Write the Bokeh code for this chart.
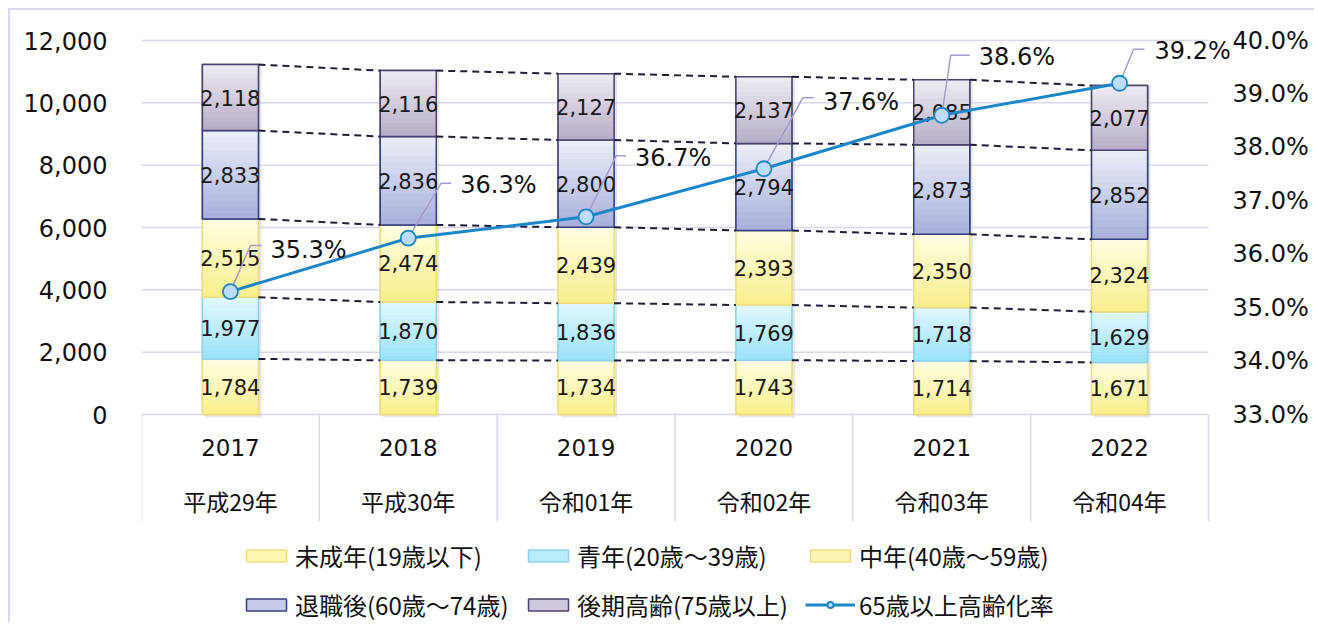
from bokeh.plotting import figure
from bokeh.models import (Range1d, LinearAxis, FixedTicker, NumeralTickFormatter,
                          PrintfTickFormatter, Legend, LegendItem)
from bokeh.embed import file_html
from bokeh.resources import INLINE
from bokeh.core.properties import value

# ---------------- data ----------------
years = ["2017", "2018", "2019", "2020", "2021", "2022"]
eras = ["平成29年", "平成30年", "令和01年", "令和02年", "令和03年", "令和04年"]
series_names = ["未成年(19歳以下)", "青年(20歳～39歳)", "中年(40歳～59歳)",
                "退職後(60歳～74歳)", "後期高齢(75歳以上)"]
minor = [1784, 1739, 1734, 1743, 1714, 1671]
youth = [1977, 1870, 1836, 1769, 1718, 1629]
middle = [2515, 2474, 2439, 2393, 2350, 2324]
retired = [2833, 2836, 2800, 2794, 2873, 2852]
elderly = [2118, 2116, 2127, 2137, 2085, 2077]
rate_name = "65歳以上高齢化率"
aging_rate = [35.3, 36.3, 36.7, 37.6, 38.6, 39.2]
y_ticks = [0, 2000, 4000, 6000, 8000, 10000, 12000]
pct_ticks = [33, 34, 35, 36, 37, 38, 39, 40]

# ---------------- layout / style ----------------
W, H = 1314, 622
MB_L, MB_R, MB_T, MB_B = 141, 84, 10, 0
FRAME_W = W - MB_L - MB_R
FRAME_H = H - MB_T - MB_B
CAT_PX = 1067 / 6.0          # px per category
EXTRA_R = FRAME_W - 1067     # frame px to the right of the last category
ZERO_FROM_TOP = 404          # px from frame top to value 0
PX_PER_VAL = 374 / 12000.0   # px per unit on left axis
Y_TOP = ZERO_FROM_TOP / PX_PER_VAL
Y_BOT = -(FRAME_H - ZERO_FROM_TOP) / PX_PER_VAL
PCT_BASE, PCT_SPAN = 33.0, 7.0


def to_pct(v):
    return PCT_BASE + v * PCT_SPAN / 12000.0


PX_PER_X = CAT_PX
PX_PER_PCT = 374 / PCT_SPAN
BAR_W = 0.315

GRID = "#d9d8ee"
colors = [  # (bottom, top, edge)
    ("#f9f08a", "#fffde4", "#f0dc7c"),
    ("#98e2f8", "#e2f8fe", "#8ed4ee"),
    ("#f8ee8c", "#fffee2", "#eedb80"),
    ("#a7afdb", "#eceef8", "#33407f"),
    ("#b6acc7", "#efecf3", "#4a4270"),
]
NUM_FONT = value("DejaVu Sans")
JP_FONT = value("Noto Sans CJK JP")


def lerp_hex(c1, c2, t):
    a = [int(c1[i:i + 2], 16) for i in (1, 3, 5)]
    b = [int(c2[i:i + 2], 16) for i in (1, 3, 5)]
    return "#%02x%02x%02x" % tuple(round(a[k] + (b[k] - a[k]) * t) for k in range(3))


chart_border = ("linear-gradient(#d9d8ee,#d9d8ee) 8px 8px / 2px 100% no-repeat, "
                "linear-gradient(#d9d8ee,#d9d8ee) 8px 8px / 100% 2px no-repeat, white")

n = len(years)
p = figure(width=W, height=H, output_backend="svg", toolbar_location=None,
           x_range=Range1d(0, n + EXTRA_R / CAT_PX), y_range=Range1d(Y_BOT, Y_TOP),
           x_axis_location=None, min_border_left=MB_L, min_border_right=MB_R,
           min_border_top=MB_T, min_border_bottom=MB_B,
           background_fill_color="white", border_fill_alpha=0,
           outline_line_color=None,
           styles={"background": chart_border})
p.extra_y_ranges = {"pct": Range1d(to_pct(Y_BOT), to_pct(Y_TOP))}

# left axis
ax = p.yaxis[0]
ax.ticker = FixedTicker(ticks=y_ticks)
ax.formatter = NumeralTickFormatter(format="0,0")

# right axis
rax = LinearAxis(y_range_name="pct", ticker=FixedTicker(ticks=pct_ticks),
                 formatter=PrintfTickFormatter(format="%.1f%%"))
p.add_layout(rax, "right")

for a, standoff in ((ax, 34), (rax, 2)):
    a.axis_line_color = None
    a.major_tick_line_color = None
    a.minor_tick_line_color = None
    a.major_tick_out = 0
    a.major_tick_in = 0
    a.minor_tick_out = 0
    a.minor_tick_in = 0
    a.major_label_standoff = standoff
    a.major_label_text_font = "DejaVu Sans"
    a.major_label_text_font_size = "24px"
    a.major_label_text_color = "#111111"

# grid (only across the category area)
p.xgrid.visible = False
p.ygrid.visible = False
gt = y_ticks[1:]
p.segment(x0=[0] * len(gt), y0=gt, x1=[n] * len(gt), y1=gt, line_color=GRID, line_width=1.5)

# category table below the plot
xc = [i + 0.5 for i in range(n)]
TABLE_BOTTOM = -(521 - 414) / PX_PER_VAL
p.segment(x0=[0], y0=[0], x1=[n], y1=[0], line_color=GRID, line_width=1.5)
p.segment(x0=list(range(n + 1)), y0=[0] * (n + 1), x1=list(range(n + 1)),
          y1=[TABLE_BOTTOM] * (n + 1), line_color=GRID, line_width=1.5)
p.text(x=xc, y=[-33 / PX_PER_VAL] * n, text=years, text_align="center",
       text_baseline="middle", text_font=NUM_FONT, text_font_size="23px",
       text_color="#111111")
p.text(x=xc, y=[-86 / PX_PER_VAL] * n, text=eras, text_align="center",
       text_baseline="middle", text_font=JP_FONT, text_font_size="23px",
       text_color="#111111")

# stacked bars
series = [minor, youth, middle, retired, elderly]
totals = [sum(s[i] for s in series) for i in range(n)]
sh = 3 / PX_PER_X
p.vbar(x=[v + sh for v in xc], width=BAR_W, bottom=[-3 / PX_PER_VAL] * n, top=totals,
       fill_color="#c8c8c8", fill_alpha=0.45, line_color=None)

bottoms = [0] * n
legend_items = []
levels = []
NSL = 14
for si, s in enumerate(series):
    bot_c, top_c, edge = colors[si]
    tops = [bottoms[i] + s[i] for i in range(n)]
    base = p.vbar(x=xc, width=BAR_W, bottom=bottoms, top=tops,
                  fill_color=lerp_hex(bot_c, top_c, 0.45), line_color=edge, line_width=1.5)
    legend_items.append(LegendItem(label=series_names[si], renderers=[base]))
    for k in range(NSL):
        sb = [bottoms[i] + s[i] * k / NSL for i in range(n)]
        st = [bottoms[i] + s[i] * (k + 1) / NSL for i in range(n)]
        c = lerp_hex(bot_c, top_c, (k + 0.5) / NSL)
        p.vbar(x=xc, width=BAR_W, bottom=sb, top=st, fill_color=c,
               line_color=c, line_width=0.8)
    p.vbar(x=xc, width=BAR_W, bottom=bottoms, top=tops, fill_alpha=0,
           line_color=edge, line_width=1.5)
    mids = [(bottoms[i] + tops[i]) / 2 for i in range(n)]
    p.text(x=xc, y=mids, text=[f"{v:,}" for v in s], text_align="center",
           text_baseline="middle", text_font=NUM_FONT, text_font_size="21px",
           text_color="#1a1a1a")
    levels.append(tops)
    bottoms = tops

# dashed connectors between bars
for lv in levels:
    p.segment(x0=[xc[i] + BAR_W / 2 for i in range(n - 1)], y0=lv[:-1],
              x1=[xc[i + 1] - BAR_W / 2 for i in range(n - 1)], y1=lv[1:],
              line_color="#1e1e3a", line_width=2, line_dash="7 5")

# aging rate line
line_r = p.line(x=xc, y=aging_rate, y_range_name="pct", line_color="#1b87c9", line_width=3)

# labels with leader lines (screen offsets in px: elbow dx, elbow dy, horiz len, text dx, text dy)
label_layout = [(20, 46, 11, 40, 42), (33, 55, 10, 52, 53), (30, 61, 10, 49, 59),
                (39, 71, 11, 59, 67), (9, 60, 19, 37, 58), (14, 34, 11, 35, 32)]
lxs, lys, tx, ty = [], [], [], []
for i in range(n):
    ex, ey, hl, dx, dy = label_layout[i]
    x0, y0 = xc[i], aging_rate[i]
    x1 = x0 + ex / PX_PER_X
    y1 = y0 + ey / PX_PER_PCT
    x2 = x1 + hl / PX_PER_X
    lxs.append([x0, x1, x2])
    lys.append([y0, y1, y1])
    tx.append(x0 + dx / PX_PER_X)
    ty.append(y0 + dy / PX_PER_PCT)
p.multi_line(xs=lxs, ys=lys, y_range_name="pct", line_color="#a59ccf", line_width=1.5)
pt_r = p.scatter(x=xc, y=aging_rate, y_range_name="pct", size=15, marker="circle",
                 fill_color="#bddcfa", line_color="#1b87c9", line_width=1.8)
legend_items.append(LegendItem(label=rate_name, renderers=[line_r, pt_r]))
p.text(x=tx, y=ty, y_range_name="pct", text=[f"{v:.1f}%" for v in aging_rate],
       text_align="left", text_baseline="middle", text_font=NUM_FONT,
       text_font_size="24px", text_color="#111111")

# legend
legend = Legend(items=legend_items, location=(100, 0), orientation="horizontal", ncols=3,
                glyph_width=50, glyph_height=15, label_standoff=4, label_width=214,
                label_height=30, spacing=14, padding=0, margin=0,
                border_line_alpha=0, background_fill_alpha=0,
                label_text_font="Noto Sans CJK JP", label_text_font_size="24px",
                label_text_color="#111111")
p.add_layout(legend)

open("out.html", "w").write(file_html(p, INLINE))
